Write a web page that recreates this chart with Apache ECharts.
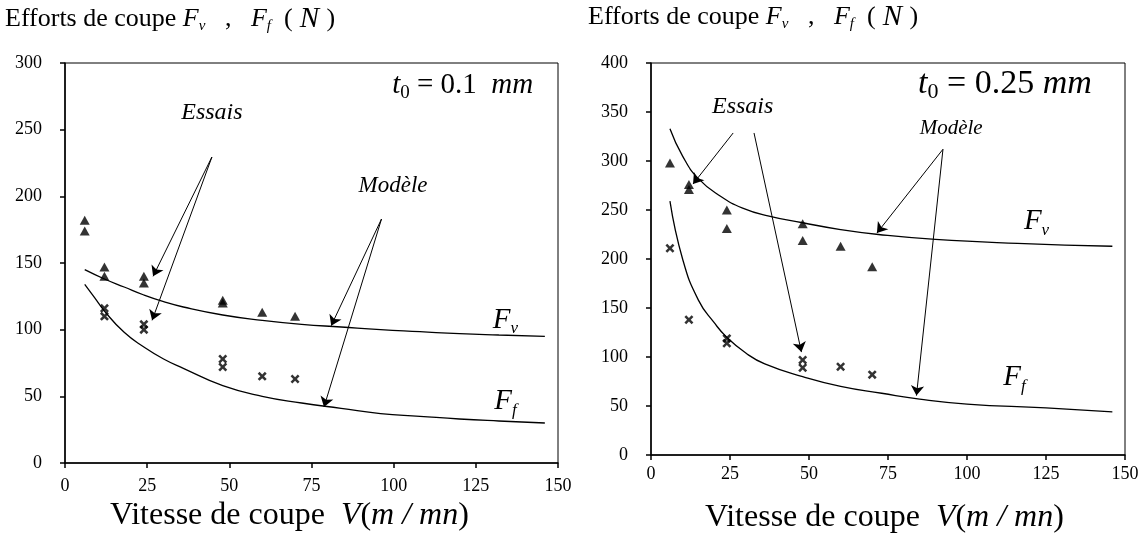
<!DOCTYPE html>
<html><head><meta charset="utf-8">
<script src="https://cdn.jsdelivr.net/npm/echarts@6/dist/echarts.min.js"></script>
<style>html,body{margin:0;padding:0;background:#fff}#c{width:1144px;height:542px}</style>
</head><body><div id="c"></div>
<script>
// ---- data ----
const xTicks = [0, 25, 50, 75, 100, 125, 150];
const yTicksLeft = [0, 50, 100, 150, 200, 250, 300];
const yTicksRight = [0, 50, 100, 150, 200, 250, 300, 350, 400];

// left chart: t0 = 0.1 mm
const leftFvTests = [[6,182],[6,174],[12,147],[12,140],[24,140],[24,135],[48,122],[48,120],[60,113],[70,110]];
const leftFfTests = [[12,116],[12,110],[24,104],[24,100],[48,78],[48,72],[60,65],[70,63]];
const leftFvModel = [[6,145],[12,138],[18,132],[24,126],[30,121],[36,117],[48,111],[60,107],[72,104],[84,102],[96,100],[108,98.5],[120,97],[132,96],[146,95]];
const leftFfModel = [[6,134],[9,124],[12,114],[18,98],[24,87],[30,78],[36,71],[48,58],[60,50],[72,45],[84,41],[96,37],[108,35],[120,33],[132,31.5],[146,30]];

// right chart: t0 = 0.25 mm
const rightFvTests = [[6,298],[12,276],[12,271],[24,250],[24,231],[48,236],[48,219],[60,213],[70,192]];
const rightFfTests = [[6,211],[12,138],[24,119],[24,114],[48,97],[48,89],[60,90],[70,82]];
const rightFvModel = [[6,333],[10,305],[15,282],[22,264],[29,252],[37,244],[48,237],[60,230],[72,225],[90,220],[116,216],[146,213]];
const rightFfModel = [[6,259],[10,200],[15,158],[20,135],[24,120],[30,104],[36,93],[48,80],[60,70],[73,63],[85,57],[100,52],[125,48],[146,44]];

// annotation anchors (data coordinates)
const leftEssaisArrows = [[[44.7,229.5],[26.8,140]],[[44.7,229.5],[26.5,107]]];
const leftModeleArrows = [[[96.3,183],[81,103]],[[96.3,183],[78.8,42]]];
const rightEssaisArrows = [[[26,328.6],[13.3,276.5]],[[32.6,328.6],[47.6,105]]];
const rightModeleArrows = [[[92.4,312],[71.5,226.5]],[[92.4,312],[84,60.6]]];

const leftLabels = [
  {coord:[44.7,263], text:'{e|Essais}'},
  {coord:[99.8,207.5], text:'{m|Modèle}'},
  {coord:[121,283], text:'{t|t}{ts|0}{tn| = 0.1  }{t|mm}'},
  {coord:[134,107], text:'{F|F}{fs|v}'},
  {coord:[134,46], text:'{F|F}{fs|f}'}
];
const rightLabels = [
  {coord:[29,355], text:'{e|Essais}'},
  {coord:[95,332.7], text:'{m2|Modèle}'},
  {coord:[112,378.6], text:'{t2|t}{ts2|0}{tn2| = 0.25 }{t2|mm}'},
  {coord:[122,238], text:'{F|F}{fs|v}'},
  {coord:[115,79], text:'{F|F}{fs|f}'}
];

// ---- styling ----
const SERIF = '"Liberation Serif", "DejaVu Serif", serif';
const crossPath = 'path://M0,2L2,0L5,3L8,0L10,2L7,5L10,8L8,10L5,7L2,10L0,8L3,5Z';
function st(size, italic, extra){
  return Object.assign({fontFamily:SERIF, fontSize:size, fontStyle: italic ? 'italic' : 'normal', color:'#000'}, extra || {});
}
const annRich = {
  e: st(24, true),
  m: st(23, true),
  m2: st(21, true),
  t: st(29, true, {lineHeight:36}),
  ts: st(19, false, {lineHeight:36, padding:[14,0,0,0]}),
  tn: st(29, false, {lineHeight:36}),
  t2: st(34, true, {lineHeight:40}),
  ts2: st(22, false, {lineHeight:40, padding:[17,0,0,0]}),
  tn2: st(34, false, {lineHeight:40}),
  F: st(29, true, {lineHeight:36}),
  fs: st(17, true, {lineHeight:36, padding:[17,0,0,0]})
};

function arrowLines(arr){
  return arr.map(a => [{coord:a[0]},{coord:a[1]}]);
}
function labelPoints(arr){
  return arr.map(l => ({
    coord:l.coord, symbol:'circle', symbolSize:1, itemStyle:{color:'rgba(0,0,0,0)'},
    label:{show:true, position:'inside', formatter:l.text, rich: annRich}
  }));
}

function axisX(gi, margin){
  return {gridIndex:gi, type:'value', min:0, max:150, interval:25,
    axisLine:{show:true, onZero:false, lineStyle:{color:'#000', width:1.5}},
    axisTick:{show:true, inside:false, length:5, lineStyle:{color:'#000', width:1.5}},
    axisLabel:{color:'#000', fontFamily:SERIF, fontSize:18, margin:margin, customValues: xTicks},
    splitLine:{show:false}};
}
function axisY(gi, max, ticks){
  return {gridIndex:gi, type:'value', min:0, max:max, interval:50,
    axisLine:{show:true, onZero:false, lineStyle:{color:'#000', width:1.5}},
    axisTick:{show:true, inside:false, length:5, lineStyle:{color:'#000', width:1.5}},
    axisLabel:{color:'#000', fontFamily:SERIF, fontSize:18, margin:23, customValues: ticks},
    splitLine:{show:false}};
}

function chartSeries(gi, fvT, ffT, fvM, ffM, essA, modA, labels){
  return [
    {type:'line', xAxisIndex:gi, yAxisIndex:gi, data:fvM, smooth:true, symbol:'none',
      lineStyle:{color:'#000', width:1.3}, silent:true, z:3,
      markLine:{silent:true, symbol:['none','arrow'], symbolSize:10, animation:false, precision:4,
        lineStyle:{color:'#000', width:1, type:'solid'}, label:{show:false},
        emphasis:{disabled:true},
        data: arrowLines(essA).concat(arrowLines(modA))},
      markPoint:{silent:true, animation:false, data: labelPoints(labels)}},
    {type:'line', xAxisIndex:gi, yAxisIndex:gi, data:ffM, smooth:true, symbol:'none',
      lineStyle:{color:'#000', width:1.3}, silent:true, z:3},
    {type:'scatter', xAxisIndex:gi, yAxisIndex:gi, data:fvT, symbol:'triangle', symbolSize:[10,9],
      itemStyle:{color:'#000'}, z:4},
    {type:'scatter', xAxisIndex:gi, yAxisIndex:gi, data:ffT, symbol:crossPath, symbolSize:9,
      itemStyle:{color:'#000'}, z:4}
  ];
}

const titleRich = {
  n: st(26, false, {lineHeight:34}),
  i: st(26, true, {lineHeight:34}),
  N: st(29, true, {lineHeight:34}),
  s: st(15, true, {lineHeight:34, padding:[15,0,0,0]})
};
const axisRich = {
  n: st(32, false, {lineHeight:42}),
  i: st(32, true, {lineHeight:42})
};
const titleText = '{n|Efforts de coupe }{i|F}{s|v}{n|   ,   }{i|F}{s|f}{n|  (}{N| N }{n|)}';
const xNameText = '{n|Vitesse de coupe  }{i|V}{n|(}{i|m / mn}{n|)}';

const chart = echarts.init(document.getElementById('c'), null, {renderer:'canvas'});
chart.setOption({
  animation:false,
  backgroundColor:'#fff',
  grid:[
    {left:65, right:586, top:63, bottom:79, show:true, borderColor:'#000', borderWidth:1},
    {left:651, right:19, top:63, bottom:87, show:true, borderColor:'#000', borderWidth:1}
  ],
  xAxis:[axisX(0, 14), axisX(1, 10)],
  yAxis:[axisY(0,300,yTicksLeft), axisY(1,400,yTicksRight)],
  series: chartSeries(0, leftFvTests, leftFfTests, leftFvModel, leftFfModel, leftEssaisArrows, leftModeleArrows, leftLabels)
    .concat(chartSeries(1, rightFvTests, rightFfTests, rightFvModel, rightFfModel, rightEssaisArrows, rightModeleArrows, rightLabels)),
  graphic:[
    {type:'text', left:5, top:4, style:{text:titleText, rich:titleRich, fill:'#000', font:'26px ' + SERIF}},
    {type:'text', left:588, top:2, style:{text:titleText, rich:titleRich, fill:'#000', font:'26px ' + SERIF}},
    {type:'text', left:110, top:500, style:{text:xNameText, rich:axisRich, fill:'#000', font:'32px ' + SERIF}},
    {type:'text', left:705, top:502, style:{text:xNameText, rich:axisRich, fill:'#000', font:'32px ' + SERIF}}
  ]
});
</script></body></html>
